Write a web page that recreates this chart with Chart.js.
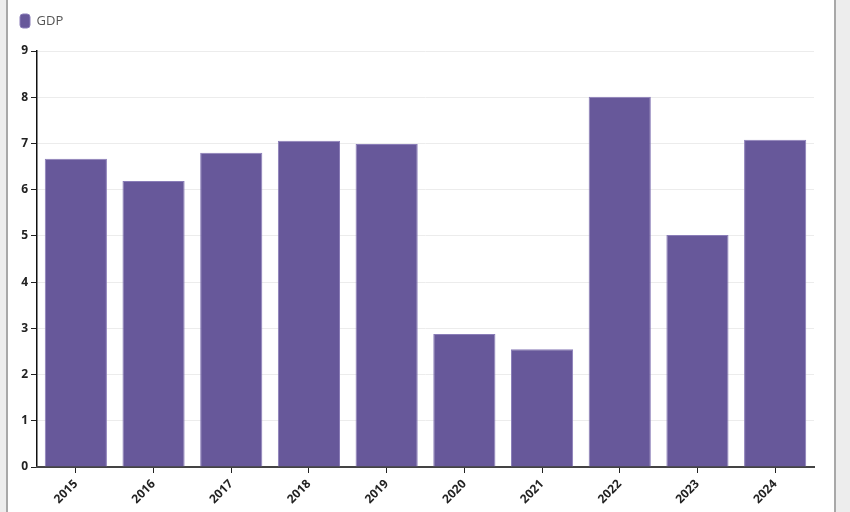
<!DOCTYPE html>
<html>
<head>
<meta charset="utf-8">
<script src="https://cdn.jsdelivr.net/npm/chart.js@4/dist/chart.umd.min.js"></script>
<style>
  html, body { margin: 0; padding: 0; background: #ededed; overflow: hidden; }
  #frame {
    position: absolute; left: 6px; top: 0; width: 826px; height: 512px;
    background: #fff; border-left: 2px solid #a8a8a8; border-right: 2px solid #a8a8a8;
  }
  #frame canvas { display: block; }
</style>
</head>
<body>
<div id="frame"><canvas id="gdpChart" width="826" height="512"></canvas></div>
<script>
// Data
const years = ['2015', '2016', '2017', '2018', '2019', '2020', '2021', '2022', '2023', '2024'];
const gdpValues = [6.67, 6.19, 6.8, 7.06, 6.99, 2.88, 2.55, 8.01, 5.02, 7.08];
const yTicks = [0, 1, 2, 3, 4, 5, 6, 7, 8, 9];

// extra gap between legend and plot area
const legendGap = {
    id: 'legendGap',
    beforeInit(chart) {
        const origFit = chart.legend.fit;
        chart.legend.fit = function () {
            origFit.bind(chart.legend)();
            this.height += 13;
        };
    }
};

document.addEventListener("DOMContentLoaded", () => {
    const ctx = document.getElementById('gdpChart').getContext('2d');

    Chart.defaults.font.family = "'Open Sans', sans-serif";

    new Chart(ctx, {
        type: 'bar',
        data: {
            labels: years,
            datasets: [{
                label: 'GDP',
                data: gdpValues,
                backgroundColor: '#67589a',
                borderColor: '#8a7db8',
                borderWidth: 1,
                barPercentage: 0.8,
                categoryPercentage: 1.0
            }]
        },
        plugins: [legendGap],
        options: {
            responsive: false,
            animation: false,
            layout: { padding: { top: 4, right: 20, left: 2, bottom: 0 } },
            plugins: {
                legend: {
                    display: true,
                    position: 'top',
                    align: 'start',
                    labels: {
                        color: '#555',
                        boxWidth: 10,
                        boxHeight: 14,
                        useBorderRadius: true,
                        borderRadius: 3,
                        padding: 10,
                        font: { size: 13 }
                    }
                },
                tooltip: { enabled: false }
            },
            scales: {
                y: {
                    min: 0,
                    max: 9,
                    afterBuildTicks: (scale) => {
                        scale.ticks = yTicks.map(v => ({ value: v }));
                    },
                    afterFit: (scale) => { scale.width = 27; },
                    grid: {
                        color: '#ececec',
                        tickColor: '#222',
                        tickLength: 6,
                        lineWidth: 1
                    },
                    border: { color: '#111', width: 1.5 },
                    ticks: {
                        color: '#222',
                        padding: 3,
                        font: { size: 12, weight: 'bold' }
                    }
                },
                x: {
                    afterFit: (scale) => { scale.height = 45; },
                    grid: {
                        offset: false,
                        drawOnChartArea: false,
                        tickColor: '#222',
                        tickLength: 6
                    },
                    border: { color: '#444', width: 2 },
                    ticks: {
                        color: '#222',
                        maxRotation: 45,
                        minRotation: 45,
                        padding: 4,
                        font: { size: 12, weight: 'bold' }
                    }
                }
            }
        }
    });
});
</script>
</body>
</html>
